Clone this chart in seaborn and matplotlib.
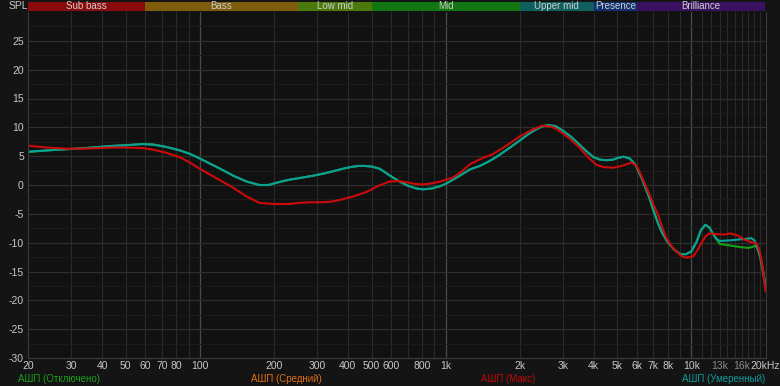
import numpy as np
import pandas as pd
import matplotlib
matplotlib.use("Agg")
import matplotlib.pyplot as plt
import seaborn as sns

# ---- data (Hz, dB) ----
freq_teal = [20, 24, 28.6, 34, 39, 45, 50, 58.6, 65, 73, 83, 91, 100, 110, 120, 137, 155, 175, 190, 210,
             230, 254, 288, 320, 350, 380, 410, 440, 470, 500, 540, 610, 650, 700, 760, 808, 880, 950,
             1000, 1100, 1255, 1375, 1500, 1600, 1800, 2000, 2150, 2300, 2450, 2600, 2800, 3000, 3250,
             3500, 3750, 4000, 4250, 4500, 4800, 5000, 5300, 5600, 5900, 6300, 6740, 7000, 7300, 7600,
             7970, 8500, 9000, 9500, 10000, 10500, 10900, 11380, 11800, 12200, 12600, 13020, 14400,
             16000, 17000, 17500, 18000, 18500, 19000, 19500, 20000]
db_teal = [5.8, 6.0, 6.2, 6.4, 6.6, 6.8, 6.9, 7.1, 7.0, 6.6, 6.0, 5.4, 4.6, 3.7, 2.9, 1.6, 0.6, 0.0, 0.0, 0.5,
           0.9, 1.2, 1.6, 2.0, 2.4, 2.8, 3.1, 3.3, 3.3, 3.2, 2.8, 1.3, 0.6, -0.1, -0.6, -0.75, -0.6, -0.2,
           0.2, 1.2, 2.7, 3.3, 4.1, 4.8, 6.3, 7.7, 8.7, 9.5, 10.1, 10.4, 10.2, 9.4, 8.3,
           7.0, 5.8, 4.8, 4.4, 4.3, 4.4, 4.7, 4.9, 4.6, 3.6, 1.0, -2.2, -4.4, -6.6, -8.3,
           -9.8, -11.2, -12.0, -12.0, -11.5, -9.8, -7.9, -6.9, -7.3, -8.4, -9.3, -9.7, -9.6,
           -9.4, -9.3, -9.2, -9.6, -10.9, -12.5, -15.0, -17.5]

freq_green = list(freq_teal)
db_green = list(db_teal)
db_green[0] = 5.7
i13 = freq_green.index(13020)
db_green[i13:] = [-10.2, -10.5, -10.8, -10.9, -10.8, -10.6, -10.7, -12.0, -14.5, -17.3]

freq_red = [20, 24, 28.6, 34, 39, 45, 50, 58.6, 65, 73, 83, 91, 100, 110, 120, 137, 155, 175, 200, 230,
            254, 280, 308, 340, 370, 420, 476, 530, 590, 640, 690, 750, 808, 880, 950, 1070, 1160,
            1255, 1400, 1555, 1750, 2000, 2250, 2475, 2700, 2900, 3200, 3500, 3800, 4100, 4400, 4800,
            5200, 5700, 5950, 6100, 6400, 6740, 7000, 7300, 7600, 7900, 8300, 8700, 9100, 9500, 9900,
            10200, 10600, 11000, 11400, 11800, 12500, 13500, 14400, 15500, 16500, 17500, 18500, 19000,
            19500, 20000]
db_red = [6.8, 6.5, 6.3, 6.3, 6.4, 6.5, 6.5, 6.4, 6.1, 5.6, 4.8, 3.9, 2.8, 1.8, 0.9, -0.5, -2.0, -3.1, -3.3, -3.3,
          -3.1, -3.0, -3.0, -2.9, -2.6, -2.0, -1.2, -0.2, 0.6, 0.7, 0.5, 0.2, 0.1, 0.3, 0.6, 1.3, 2.3,
          3.6, 4.6, 5.35, 6.7, 8.4, 9.6, 10.3, 10.1, 9.4, 8.0, 6.5, 4.8, 3.5, 3.1, 3.0,
          3.3, 3.9, 3.4, 2.6, 0.6, -1.6, -3.4, -5.1, -7.3, -9.2, -10.6, -11.6, -12.3, -12.6, -12.5,
          -12.3, -11.2, -10.0, -8.9, -8.4, -8.5, -8.6, -8.4, -8.8, -9.5, -9.9, -10.2, -11.8,
          -14.5, -18.4]

band_names = ["Sub bass", "Bass", "Low mid", "Mid", "Upper mid", "Presence", "Brilliance"]
band_edges = [20, 60, 250, 500, 2000, 4000, 6000, 20000]
band_colors = ["#8a0b0b", "#7d5d0c", "#4b7a0c", "#127712", "#0f5f5f", "#0f2f6e", "#3a1160"]

xtick_vals = [20, 30, 40, 50, 60, 70, 80, 100, 200, 300, 400, 500, 600, 800, 1000, 2000, 3000,
              4000, 5000, 6000, 7000, 8000, 10000, 13000, 16000, 20000]
xtick_labels = ["20", "30", "40", "50", "60", "70", "80", "100", "200", "300", "400", "500", "600",
                "800", "1k", "2k", "3k", "4k", "5k", "6k", "7k", "8k", "10k", "13k", "16k", "20kHz"]
ytick_vals = [25, 20, 15, 10, 5, 0, -5, -10, -15, -20, -25, -30]

series_names = ["АШП (Отключено)", "АШП (Средний)", "АШП (Макс)", "АШП (Умеренный)"]
series_colors = ["#14a014", "#e0700f", "#cc0a0a", "#0aa096"]

# ---- figure ----
sns.set_style("dark")
plt.rcParams["font.family"] = ["Liberation Sans", "DejaVu Sans"]

W, H = 780, 386
fig = plt.figure(figsize=(W / 100, H / 100), dpi=100, facecolor="#141414")
x0, x1 = 28, 765.5
y_top, y_bot = 12, 358
ax = fig.add_axes([x0 / W, 1 - y_bot / H, (x1 - x0) / W, (y_bot - y_top) / H])
ax.set_facecolor("#111111")

df = pd.concat([
    pd.DataFrame({"f": freq_green, "db": db_green, "s": series_names[0]}),
    pd.DataFrame({"f": freq_teal, "db": db_teal, "s": series_names[3]}),
    pd.DataFrame({"f": freq_red, "db": db_red, "s": series_names[2]}),
])
pal = {series_names[0]: series_colors[0], series_names[3]: series_colors[3],
       series_names[2]: series_colors[2]}
sns.lineplot(data=df, x="f", y="db", hue="s", palette=pal, ax=ax, legend=False,
             linewidth=1.5, sort=False, estimator=None)
for ln in ax.get_lines():
    ln.set_solid_joinstyle("round")
    ln.set_solid_capstyle("round")

ax.set_xscale("log")
ax.set_xlim(20, 20000)
ax.set_ylim(-30, 30)
ax.set_xlabel("")
ax.set_ylabel("")

# grid
minor_x = (list(range(20, 100, 10)) + list(range(200, 1000, 100)) + list(range(2000, 10000, 1000))
           + list(range(11000, 20000, 1000)))
for f in minor_x:
    ax.axvline(f, color="#2a2a2a", lw=0.8, zorder=0)
for f in [100, 1000, 10000]:
    ax.axvline(f, color="#4a4a4a", lw=0.9, zorder=0)
for y in np.arange(-27.5, 30, 5):
    ax.axhline(y, color="#1d1d1d", lw=0.7, zorder=0)
for y in ytick_vals:
    ax.axhline(y, color="#2e2e2e", lw=0.9, zorder=0)
ax.grid(False)

ax.set_xticks(xtick_vals)
ax.set_xticklabels(xtick_labels)
ax.xaxis.set_minor_locator(matplotlib.ticker.NullLocator())
ax.set_yticks(ytick_vals)
ax.set_yticklabels([str(v) for v in ytick_vals])
ax.tick_params(axis="both", length=0, labelsize=7.5, colors="#c8c8c8")
ax.tick_params(axis="x", pad=2)
ax.tick_params(axis="y", pad=3)
for lbl in ax.get_xticklabels():
    if lbl.get_text() in ("13k", "16k"):
        lbl.set_color("#8a8a8a")
for sp in ax.spines.values():
    sp.set_color("#3a3a3a")
    sp.set_linewidth(0.8)
ax.spines["top"].set_visible(False)

# band strip
axb = fig.add_axes([x0 / W, 1 - 10.5 / H, (x1 - x0) / W, 9 / H])
axb.set_xscale("log")
axb.set_xlim(20, 20000)
axb.set_ylim(0, 1)
axb.axis("off")
for name, lo, hi, c in zip(band_names, band_edges[:-1], band_edges[1:], band_colors):
    axb.axvspan(lo, hi, color=c, lw=0)
    axb.text(np.sqrt(lo * hi), 0.5, name, ha="center", va="center", fontsize=7, color="#cfcfcf")

fig.text(18 / W, 1 - 6 / H, "SPL", ha="center", va="center", fontsize=7.5, color="#c8c8c8")

# series legend texts
fig.text(18 / W, 1 - 379 / H, series_names[0], ha="left", va="center", fontsize=7, color="#16a016")
fig.text(251 / W, 1 - 379 / H, series_names[1], ha="left", va="center", fontsize=7, color=series_colors[1])
fig.text(481 / W, 1 - 379 / H, series_names[2], ha="left", va="center", fontsize=7, color="#c00a0a")
fig.text(765 / W, 1 - 379 / H, series_names[3], ha="right", va="center", fontsize=7, color="#0e9a9a")

fig.savefig("out.png", dpi=100, facecolor=fig.get_facecolor())
